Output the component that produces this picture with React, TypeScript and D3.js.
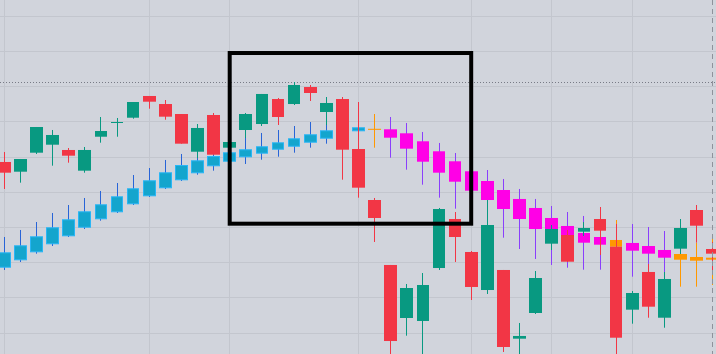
import React from 'react';
import * as d3 from 'd3';

// Series A (green / red candles)
const aOpen = [158.47, 155.71, 161.11, 163.38, 161.88, 156.0, 165.65, 169.55, 171.05, 177.22, 174.94, 172.1, 161.39, 171.82, 162.53, 167.56, 169.26, 176.36, 174.94, 179.77, 172.67, 176.36, 162.16, 147.67, 129.21, 114.15, 113.3, 128.35, 142.27, 132.9, 122.1, 127.79, 108.27, 115.57, 135.26, 137.73, 138.67, 142.27, 134.4, 116.51, 127.22, 114.23, 133.84, 144.83, 133.75];
const aHigh = [161.31, 159.32, 168.41, 167.56, 162.44, 162.73, 171.25, 170.97, 175.51, 177.22, 176.08, 172.1, 169.26, 172.39, 166.42, 172.39, 177.79, 176.65, 181.19, 180.34, 176.93, 176.93, 175.51, 148.24, 129.21, 123.81, 126.93, 145.4, 144.26, 133.18, 147.67, 127.79, 112.73, 127.5, 140.57, 139.15, 141.42, 145.68, 140.85, 121.82, 129.49, 127.22, 142.27, 146.25, 135.74];
const aLow = [150.8, 152.59, 160.74, 157.42, 158.27, 155.43, 163.95, 165.65, 170.77, 173.61, 170.48, 163.67, 159.6, 160.54, 161.88, 165.29, 168.69, 168.98, 174.66, 175.8, 168.98, 153.44, 148.33, 135.74, 102.22, 109.12, 102.22, 127.79, 130.06, 119.26, 120.97, 104.49, 102.22, 115.29, 133.47, 130.06, 137.44, 132.05, 102.79, 112.53, 114.23, 111.39, 132.33, 135.54, 126.93];
const aClose = [155.43, 159.32, 168.41, 166.14, 160.26, 161.88, 167.27, 169.83, 175.51, 175.6, 171.34, 163.67, 168.13, 160.54, 164.15, 172.1, 177.79, 171.25, 180.34, 178.07, 175.23, 161.96, 151.17, 142.56, 107.61, 122.67, 123.52, 145.11, 137.16, 122.96, 140.57, 105.91, 109.04, 125.51, 139.43, 130.14, 139.72, 138.95, 108.55, 121.25, 117.36, 125.23, 139.72, 140.37, 132.42];

// Series B (blue / magenta / orange candles)
const bOpen = [128.44, 130.54, 132.81, 135.09, 137.36, 139.8, 142.19, 144.18, 146.45, 148.72, 151.0, 153.27, 155.26, 157.25, 158.55, 159.8, 160.83, 161.96, 162.81, 163.95, 165.09, 166.42, 167.19, 167.9, 167.76, 166.62, 164.35, 161.51, 158.67, 155.83, 153.07, 150.51, 147.96, 145.4, 142.56, 140.29, 138.3, 137.16, 136.31, 135.46, 134.6, 133.47, 132.33, 131.48, 131.28];
const bHigh = [137.16, 139.15, 141.42, 143.98, 146.25, 148.24, 150.23, 152.5, 154.77, 156.76, 159.04, 160.74, 163.01, 163.87, 164.72, 165.57, 166.71, 167.56, 168.69, 169.83, 170.68, 169.83, 168.33, 172.1, 171.25, 169.55, 166.99, 163.87, 161.02, 158.18, 156.19, 153.64, 150.8, 147.96, 145.97, 144.26, 143.13, 140.57, 141.99, 140.85, 140.0, 138.86, 133.47, 135.46, 137.73];
const bLow = [127.79, 130.06, 132.42, 134.6, 137.16, 139.43, 141.79, 143.98, 146.25, 148.52, 150.8, 153.07, 154.86, 156.0, 157.13, 157.9, 159.12, 159.97, 161.11, 162.53, 163.67, 164.72, 167.19, 162.53, 159.69, 156.28, 152.02, 148.33, 145.2, 142.36, 136.96, 136.96, 133.75, 130.91, 129.21, 128.44, 127.87, 127.87, 134.04, 125.88, 127.79, 126.36, 123.04, 123.04, 123.52];
const bClose = [132.81, 134.8, 137.36, 139.92, 142.19, 144.46, 146.45, 148.72, 151.0, 153.27, 155.54, 157.61, 158.95, 160.17, 161.22, 162.08, 162.93, 164.06, 165.2, 166.34, 167.47, 167.84, 168.33, 167.61, 165.37, 162.25, 158.55, 155.43, 152.87, 150.31, 147.67, 145.11, 142.27, 139.43, 139.43, 137.73, 135.54, 134.97, 134.4, 133.27, 132.42, 131.28, 130.71, 130.43, 130.71];
const bState = ['up', 'up', 'up', 'up', 'up', 'up', 'up', 'up', 'up', 'up', 'up', 'up', 'up', 'up', 'up', 'up', 'up', 'up', 'up', 'up', 'up', 'up', 'up', 'flat', 'down', 'down', 'down', 'down', 'down', 'down', 'down', 'down', 'down', 'down', 'down', 'down', 'down', 'down', 'flat', 'down', 'down', 'down', 'flat', 'flat', 'flat'];

// Grid / annotations
const priceTicks = [110, 120, 130, 140, 150, 160, 170, 180, 190, 200];
const timeTickIndex = [0, 9, 14, 22, 29, 34, 39];
const boxStart = 14;
const boxEnd = 29;
const boxTop = 189.43;
const boxBottom = 140.94;
const priceLine = 181.11;
const lastIndex = 44;

const W = 716;
const H = 354;

const bColors: Record<string, { body: string; border: string; wick: string }> = {
  up: { body: '#14a5cd', border: '#29b6f6', wick: '#2864d7' },
  down: { body: '#ff00e6', border: '#ff00e6', wick: '#8a3ffc' },
  flat: { body: '#ff9800', border: '#ff9800', wick: '#ff9800' },
};

export default function App() {
  const n = aOpen.length;
  const x = d3.scaleLinear().domain([0, n - 1]).range([4.3, 712.7]);
  const y = d3.scaleLinear().domain([103.92, 204.49]).range([H, 0]);
  const step = x(1) - x(0);
  const bw = step * 0.79;
  const idx = d3.range(n);

  const body = (cx: number) => {
    const x0 = Math.round(cx - bw / 2);
    const x1 = Math.round(cx + bw / 2);
    return { x0, w: x1 - x0 };
  };
  const wx = (cx: number) => Math.floor(cx) + 0.5;

  return (
    <svg width={W} height={H} style={{ position: 'fixed', left: 0, top: 0, display: 'block' }}>
      <rect x={0} y={0} width={W} height={H} fill="#d1d4dc" />
      <g>
        {priceTicks.map((p) => (
          <line key={'h' + p} x1={0} x2={W} y1={Math.round(y(p)) + 0.5} y2={Math.round(y(p)) + 0.5} stroke="#c3c6ce" strokeWidth={1} />
        ))}
        {timeTickIndex.map((i) => (
          <line key={'v' + i} x1={wx(x(i))} x2={wx(x(i))} y1={0} y2={H} stroke="#c3c6ce" strokeWidth={1} />
        ))}
      </g>
      <line x1={0} x2={W} y1={Math.round(y(priceLine)) + 0.5} y2={Math.round(y(priceLine)) + 0.5} stroke="#787b86" strokeWidth={1} strokeDasharray="1 2" />
      {/* Series B */}
      <g>
        {idx.map((i) => {
          const c = bColors[bState[i]];
          const cx = x(i);
          const { x0, w } = body(cx);
          const top = y(Math.max(bOpen[i], bClose[i]));
          const bot = y(Math.min(bOpen[i], bClose[i]));
          const h = Math.max(1, bot - top);
          const hasBorder = bState[i] === 'up';
          return (
            <g key={'b' + i}>
              <line x1={wx(cx)} x2={wx(cx)} y1={y(bHigh[i])} y2={y(bLow[i])} stroke={c.wick} strokeWidth={1} />
              {hasBorder ? (
                <rect x={x0 + 0.5} y={top + 0.5} width={w - 1} height={Math.max(0.5, h - 1)} fill={c.body} stroke={c.border} strokeWidth={1} />
              ) : (
                <rect x={x0} y={top} width={w} height={h} fill={c.body} />
              )}
            </g>
          );
        })}
      </g>
      {/* Series A */}
      <g>
        {idx.map((i) => {
          const up = aClose[i] >= aOpen[i];
          const col = up ? '#089981' : '#f23645';
          const cx = x(i);
          const { x0, w } = body(cx);
          const top = y(Math.max(aOpen[i], aClose[i]));
          const bot = y(Math.min(aOpen[i], aClose[i]));
          const h = Math.max(1, bot - top);
          return (
            <g key={'a' + i}>
              <line x1={wx(cx)} x2={wx(cx)} y1={y(aHigh[i])} y2={y(aLow[i])} stroke={col} strokeWidth={1} />
              <rect x={x0} y={top} width={w} height={h} fill={col} />
            </g>
          );
        })}
      </g>
      <rect
        x={x(boxStart)}
        y={y(boxTop)}
        width={x(boxEnd) - x(boxStart)}
        height={y(boxBottom) - y(boxTop)}
        fill="none"
        stroke="#000000"
        strokeWidth={4}
      />
      <line x1={wx(x(lastIndex))} x2={wx(x(lastIndex))} y1={0} y2={H} stroke="#8f929b" strokeWidth={1} strokeDasharray="5 4" />
    </svg>
  );
}
